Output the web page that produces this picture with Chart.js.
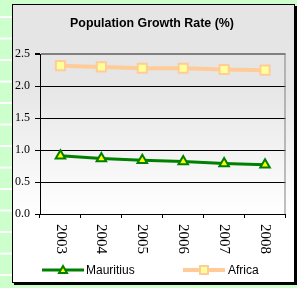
<!DOCTYPE html>
<html>
<head>
<meta charset="utf-8">
<script src="https://cdn.jsdelivr.net/npm/chart.js@4.4.0/dist/chart.umd.min.js"></script>
<style>
  html, body { margin: 0; padding: 0; }
  body {
    width: 297px; height: 288px; overflow: hidden; position: relative;
    background-color: #ccffcc;
    background-image: linear-gradient(to bottom, transparent 0, transparent 19.5px, #ffffff 19.5px, #ffffff 21.5px);
    background-size: 100% 21.5px;
    background-position: 0 -3.5px;
  }
  #box {
    position: absolute; left: 12px; top: 4px;
    width: 281px; height: 277px;
    border: 1px solid #000;
    box-shadow: 2px 2px 0 #000;
    background: linear-gradient(to bottom, #e5e5e5 0%, #e6e6e6 30%, #ffffff 75%, #ffffff 100%);
  }
</style>
</head>
<body>
<div id="box"><canvas id="growthChart" width="281" height="277"></canvas></div>
<script>
// chart data
const years = ['2003', '2004', '2005', '2006', '2007', '2008'];
const mauritius = [0.91, 0.87, 0.84, 0.82, 0.79, 0.77];
const africa = [2.32, 2.30, 2.28, 2.28, 2.26, 2.25];
const yTicks = [0, 0.5, 1.0, 1.5, 2.0, 2.5];

const GREEN = '#008000';
const PEACH = '#ffcc99';

// draws the rotated year labels, plot right border and the line+marker legend
const extras = {
  id: 'extras',
  afterDraw(chart) {
    const ctx = chart.ctx;
    const xs = chart.scales.x;
    const area = chart.chartArea;
    ctx.save();

    // right edge of plot
    ctx.strokeStyle = '#808080';
    ctx.lineWidth = 1;
    ctx.beginPath();
    ctx.moveTo(area.right - 0.5, area.top);
    ctx.lineTo(area.right - 0.5, area.bottom);
    ctx.stroke();

    // year labels, reading top to bottom
    ctx.fillStyle = '#000';
    ctx.font = '15px "Liberation Serif", "Times New Roman", serif';
    ctx.textAlign = 'left';
    ctx.textBaseline = 'middle';
    years.forEach((y, i) => {
      const x = xs.getPixelForTick(i);
      ctx.save();
      ctx.translate(x, area.bottom + 10);
      ctx.rotate(Math.PI / 2);
      ctx.fillText(y, 0, 0);
      ctx.restore();
    });

    // legend
    const ly = 265;
    ctx.font = '12px "Liberation Sans", Arial, sans-serif';
    ctx.textBaseline = 'middle';

    ctx.strokeStyle = GREEN;
    ctx.lineWidth = 3;
    ctx.beginPath();
    ctx.moveTo(29, ly);
    ctx.lineTo(71, ly);
    ctx.stroke();
    ctx.fillStyle = '#ffff00';
    ctx.lineWidth = 2;
    ctx.beginPath();
    ctx.moveTo(50, ly - 4);
    ctx.lineTo(54, ly + 3);
    ctx.lineTo(46, ly + 3);
    ctx.closePath();
    ctx.fill();
    ctx.stroke();
    ctx.fillStyle = '#000';
    ctx.fillText('Mauritius', 73, ly + 1);

    ctx.strokeStyle = PEACH;
    ctx.lineWidth = 4;
    ctx.beginPath();
    ctx.moveTo(170, ly);
    ctx.lineTo(212, ly);
    ctx.stroke();
    ctx.fillStyle = '#ffff99';
    ctx.lineWidth = 2;
    ctx.fillRect(187, ly - 4, 8, 8);
    ctx.strokeRect(187, ly - 4, 8, 8);
    ctx.fillStyle = '#000';
    ctx.fillText('Africa', 215, ly + 1);

    ctx.restore();
  }
};

new Chart(document.getElementById('growthChart'), {
  type: 'line',
  data: {
    labels: years,
    datasets: [
      {
        label: 'Mauritius',
        data: mauritius,
        borderColor: GREEN,
        borderWidth: 3,
        pointStyle: 'triangle',
        pointRadius: 5.5,
        pointBorderWidth: 2,
        pointBackgroundColor: '#ffff00',
        pointBorderColor: GREEN,
        tension: 0
      },
      {
        label: 'Africa',
        data: africa,
        borderColor: PEACH,
        borderWidth: 4,
        pointStyle: 'rect',
        pointRadius: 6.5,
        pointBorderWidth: 2,
        pointBackgroundColor: '#ffff99',
        pointBorderColor: PEACH,
        tension: 0
      }
    ]
  },
  options: {
    responsive: false,
    animation: false,
    layout: { padding: { left: -3, right: 0, top: 0, bottom: 64 } },
    plugins: {
      legend: { display: false },
      tooltip: { enabled: false },
      title: {
        display: true,
        text: 'Population Growth Rate (%)',
        color: '#000',
        font: { family: '"Liberation Sans", Arial, sans-serif', size: 12.4, weight: 'bold' },
        padding: { top: 11, bottom: 23.3 }
      }
    },
    scales: {
      x: {
        offset: true,
        grid: {
          offset: true,
          drawOnChartArea: false,
          drawTicks: true,
          tickLength: 4,
          color: '#000'
        },
        border: { color: '#000', width: 1 },
        ticks: { display: false }
      },
      y: {
        min: 0,
        max: 2.5,
        afterBuildTicks: (scale) => { scale.ticks = yTicks.map(v => ({ value: v })); },
        grid: {
          color: (c) => (c.tick && c.tick.value === 2.5 ? '#808080' : '#000'),
          lineWidth: (c) => (c.tick && c.tick.value === 2.5 ? 2 : 1),
          tickLength: 5,
          tickColor: '#000'
        },
        border: { color: '#000', width: 1 },
        ticks: {
          color: '#000',
          padding: 5,
          font: { family: '"Liberation Serif", "Times New Roman", serif', size: 12 },
          callback: (v) => Number(v).toFixed(1)
        }
      }
    }
  },
  plugins: [extras]
});
</script>
</body>
</html>
